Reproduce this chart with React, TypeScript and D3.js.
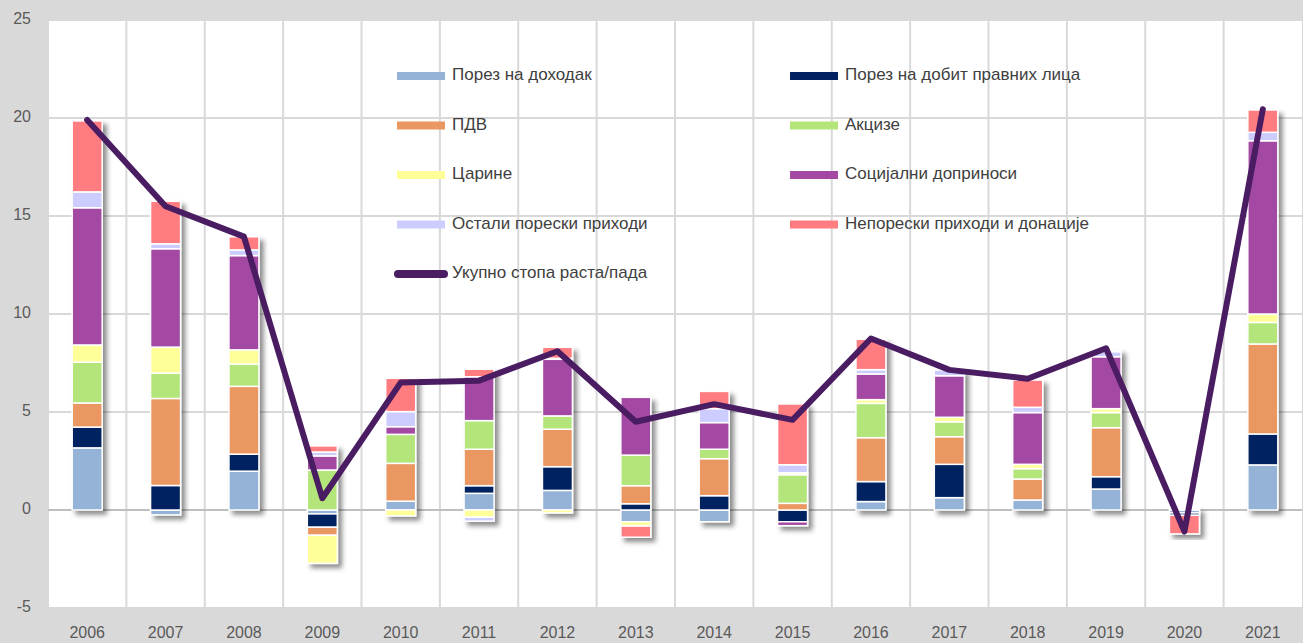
import React from 'react';
import * as d3 from 'd3';

// data
const years = ['2006', '2007', '2008', '2009', '2010', '2011', '2012', '2013', '2014', '2015', '2016', '2017', '2018', '2019', '2020', '2021'];
const porezNaDohodak = [3.17, -0.25, 1.98, -0.2, 0.45, 0.85, 1.0, -0.6, -0.6, 0, 0.43, 0.63, 0.51, 1.07, -0.15, 2.3];
const porezNaDobit = [1.06, 1.25, 0.87, -0.68, 0, 0.39, 1.21, 0.32, 0.73, -0.6, 1.02, 1.7, 0, 0.63, -0.12, 1.58];
const pdv = [1.23, 4.44, 3.46, -0.41, 1.93, 1.86, 1.91, 0.92, 1.89, 0.34, 2.24, 1.41, 1.07, 2.5, 0, 4.59];
const akcize = [2.08, 1.29, 1.13, 2.04, 1.48, 1.46, 0.68, 1.56, 0.48, 1.46, 1.75, 0.76, 0.53, 0.77, 0, 1.1];
const carine = [0.88, 1.33, 0.73, -1.43, -0.3, -0.37, -0.15, -0.22, 0, 0.1, 0.19, 0.23, 0.22, 0.2, 0.08, 0.43];
const socijalni = [7.0, 5.02, 4.81, 0.72, 0.39, 2.24, 2.89, 2.95, 1.36, -0.2, 1.31, 2.12, 2.64, 2.65, 0, 8.84];
const ostali = [0.81, 0.25, 0.29, 0.2, 0.77, -0.2, 0.05, 0, 0.71, 0.41, 0.22, 0.29, 0.27, 0.26, 0, 0.43];
const neporeski = [3.62, 2.17, 0.67, 0.31, 1.7, 0.38, 0.56, -0.57, 0.88, 3.1, 1.55, 0, 1.39, 0.08, -0.95, 1.14];
const ukupno = [19.9, 15.5, 13.95, 0.6, 6.5, 6.6, 8.1, 4.5, 5.4, 4.6, 8.75, 7.15, 6.7, 8.25, -1.1, 20.45];
const yTicks = [-5, 0, 5, 10, 15, 20, 25];

const series = [
  { key: 'Порез на доходак', values: porezNaDohodak, color: '#95b3d7' },
  { key: 'Порез на добит правних лица', values: porezNaDobit, color: '#002060' },
  { key: 'ПДВ', values: pdv, color: '#eb9762' },
  { key: 'Акцизе', values: akcize, color: '#b3e57a' },
  { key: 'Царине', values: carine, color: '#ffff99' },
  { key: 'Социјални доприноси', values: socijalni, color: '#a349a4' },
  { key: 'Остали порески приходи', values: ostali, color: '#ccccff' },
  { key: 'Непорески приходи и донације', values: neporeski, color: '#ff7c80' },
];
const lineLabel = 'Укупно стопа раста/пада';
const lineColor = '#4a1c62';

const width = 1303;
const height = 643;
const margin = { top: 20, right: 1, bottom: 35, left: 48 };
const labelFont = "'Liberation Sans', Arial, sans-serif";

export default function App() {
  const x = d3
    .scaleBand()
    .domain(years)
    .range([margin.left, width - margin.right]);
  const y = d3
    .scaleLinear()
    .domain([-5, 25])
    .range([height - margin.bottom, margin.top]);

  const table = years.map((yr, i) => {
    const row: Record<string, any> = { year: yr };
    series.forEach((s) => (row[s.key] = s.values[i]));
    return row;
  });
  const stacked = d3
    .stack()
    .keys(series.map((s) => s.key))
    .offset(d3.stackOffsetDiverging)(table as any);

  const barW = 30;
  const line = d3
    .line<number>()
    .x((_, i) => (x(years[i]) as number) + x.bandwidth() / 2)
    .y((d) => y(d));

  const legendItems = series.map((s, i) => ({
    ...s,
    lx: i % 2 === 0 ? 397 : 790,
    ly: 76 + Math.floor(i / 2) * 49.5,
  }));

  return (
    <svg width={width} height={height} style={{ position: 'absolute', left: 0, top: 0 }}>
      <defs>
        <filter id='shadow' x='-30%' y='-10%' width='160%' height='130%'>
          <feDropShadow dx='4' dy='4' stdDeviation='2.5' floodColor='#000' floodOpacity='0.45' />
        </filter>
      </defs>
      <rect x={0} y={0} width={width} height={height} fill='#d9d9d9' />
      <rect
        x={margin.left}
        y={margin.top}
        width={width - margin.left - margin.right}
        height={height - margin.top - margin.bottom}
        fill='#fff'
      />
      {/* grid */}
      {yTicks.map((t) => (
        <line key={'h' + t} x1={margin.left} x2={width - margin.right} y1={y(t)} y2={y(t)} stroke='#d9d9d9' strokeWidth={2} />
      ))}
      {years.map((yr) => (
        <line
          key={'v' + yr}
          x1={x(yr)}
          x2={x(yr)}
          y1={margin.top}
          y2={height - margin.bottom}
          stroke='#d9d9d9'
          strokeWidth={2}
        />
      ))}
      <line x1={margin.left} x2={width - margin.right} y1={y(0)} y2={y(0)} stroke='#a6a6a6' strokeWidth={1.2} />

      {/* legend */}
      <g fontFamily={labelFont} fontSize={17} fill='#404040'>
        {legendItems.map((d) => (
          <g key={d.key}>
            <rect x={d.lx} y={d.ly - 4} width={48} height={8} fill={d.color} />
            <text x={d.lx + 55} y={d.ly} dominantBaseline='middle'>
              {d.key}
            </text>
          </g>
        ))}
        <line x1={398} x2={444} y1={274} y2={274} stroke={lineColor} strokeWidth={8} strokeLinecap='round' />
        <text x={452} y={274} dominantBaseline='middle'>
          {lineLabel}
        </text>
      </g>

      {/* bars */}
      {years.map((yr, i) => (
        <g key={'bar' + yr} filter='url(#shadow)'>
          {stacked.map((layer, si) => {
            const seg = layer[i];
            if (seg[0] === seg[1]) return null;
            const top = y(Math.max(seg[0], seg[1]));
            const bot = y(Math.min(seg[0], seg[1]));
            return (
              <rect
                key={series[si].key}
                x={(x(yr) as number) + x.bandwidth() / 2 - barW / 2}
                y={top}
                width={barW}
                height={bot - top}
                fill={series[si].color}
                stroke='#fff'
                strokeWidth={1.5}
              />
            );
          })}
        </g>
      ))}

      {/* total line */}
      <path d={line(ukupno) || ''} fill='none' stroke={lineColor} strokeWidth={6} strokeLinejoin='round' strokeLinecap='round' />

      {/* axes labels */}
      <g fontFamily={labelFont} fontSize={16} fill='#595959'>
        {yTicks.map((t) => (
          <text key={'yl' + t} x={31} y={y(t)} textAnchor='end' dominantBaseline='middle'>
            {t}
          </text>
        ))}
        {years.map((yr) => (
          <text key={'xl' + yr} x={(x(yr) as number) + x.bandwidth() / 2} y={634} textAnchor='middle' dominantBaseline='middle'>
            {yr}
          </text>
        ))}
      </g>
    </svg>
  );
}
